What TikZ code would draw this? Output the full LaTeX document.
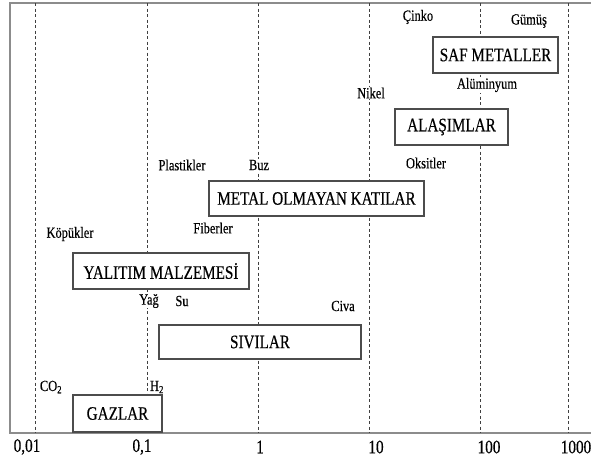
\documentclass[tikz,border=0pt]{standalone}
\usepackage{fontspec}
\setmainfont{Liberation Serif}[FakeStretch=0.8,FakeBold=0.4]
\tikzset{
  box/.style={draw=black!70,fill=white,line width=1.2pt,inner sep=0pt,font=\fontsize{19}{19}\selectfont},
  lbl/.style={fill=white,inner sep=0.5pt,font=\fontsize{15.5}{15.5}\selectfont},
  ticklbl/.style={inner sep=0pt,font=\fontsize{19}{19}\selectfont},
  gridline/.style={black!75,line width=0.6pt,dash pattern=on 3pt off 2.5pt},
}

\begin{document}
\begin{tikzpicture}[x=1pt,y=-1pt]
    \useasboundingbox (0,0) rectangle (591,464);

    % frame and axis
    \coordinate (TR) at (591,3);
    \coordinate (TL) at (10,3);
    \coordinate (O) at (10,433);
    \coordinate (BR) at (591,433);
    \draw[black!45,line width=1.5pt] (TR) -- (TL) -- (O) -- (BR);

    % decades, dashed
    \foreach \x/\lx/\t [count=\i] in {35/27/{0,01},147/142/{0,1},258/260/1,369/376/10,480/489/100,568/576/1000}
    {
        \draw[gridline] (\x,3) -- (\x,433);
        \node[ticklbl] (tick\i) at (\lx,447) {\t};
    }

    % classes
    \node[box,minimum width=125pt,minimum height=36pt] (saf) at (495.5,55) {SAF METALLER};
    \node[box,minimum width=113pt,minimum height=36pt] (alasim) at (451.5,127) {ALAŞIMLAR};
    \node[box,minimum width=215pt,minimum height=35pt] (ametal) at (316.5,198.5) {METAL OLMAYAN KATILAR};
    \node[box,minimum width=176pt,minimum height=36pt] (yalitim) at (161,271) {YALITIM MALZEMESİ};
    \node[box,minimum width=202pt,minimum height=34pt] (sivi) at (260,342) {SIVILAR};
    \node[box,minimum width=89pt,minimum height=37pt] (gaz) at (117.5,413.5) {GAZLAR};

    % materials
    \node[lbl] (cinko) at (418,17) {Çinko};
    \node[lbl] (gumus) at (529,21) {Gümüş};
    \node[lbl] (alum) at (487,85) {Alüminyum};
    \node[lbl] (nikel) at (371,93) {Nikel};
    \node[lbl] (oksit) at (426,163) {Oksitler};
    \node[lbl] (plastik) at (182,165) {Plastikler};
    \node[lbl] (buz) at (259,165) {Buz};
    \node[lbl] (kopuk) at (70,234) {Köpükler};
    \node[lbl] (fiber) at (213,228) {Fiberler};
    \node[lbl] (yag) at (149,301) {Yağ};
    \node[lbl] (su) at (182,301) {Su};
    \node[lbl] (civa) at (343,306) {Civa};
    \node[lbl] (co2) at (51,387) {CO\textsubscript{2}};
    \node[lbl] (h2) at (157,387) {H\textsubscript{2}};
\end{tikzpicture}
\end{document}
